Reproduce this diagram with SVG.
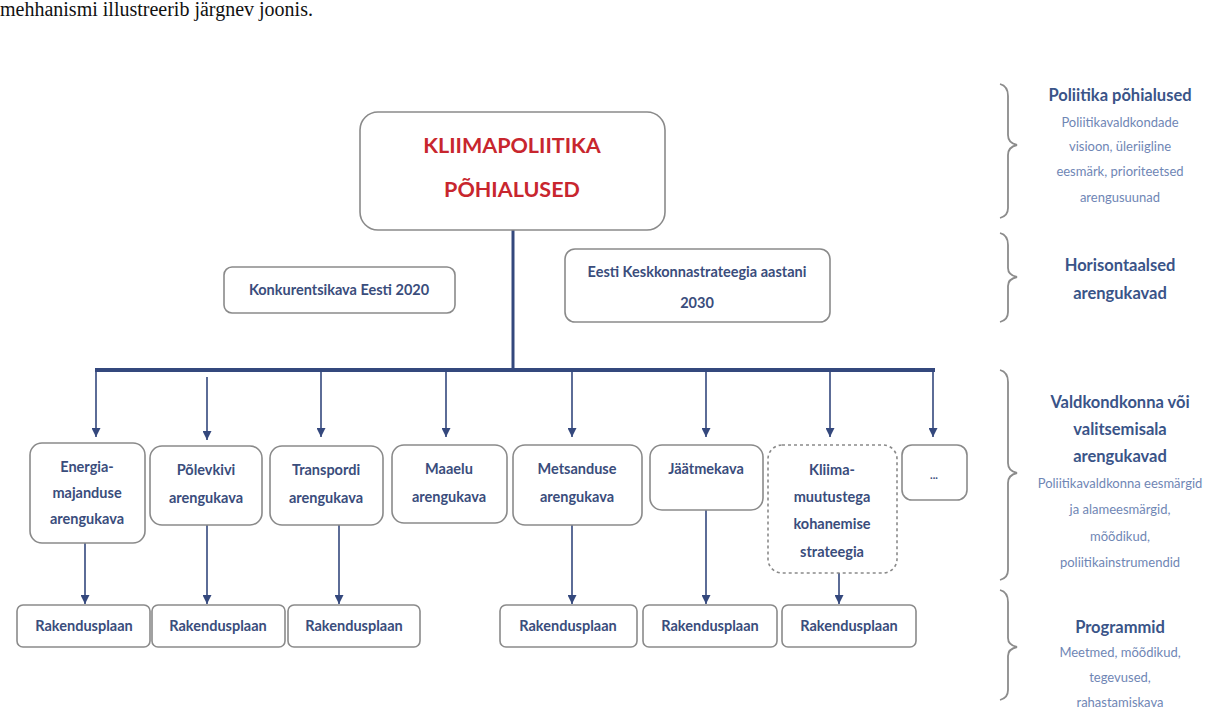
<svg xmlns="http://www.w3.org/2000/svg" width="1221" height="720" viewBox="0 0 1221 720">
<defs>
<marker id="ah" viewBox="0 0 10 10" refX="10" refY="5" markerWidth="9" markerHeight="9" markerUnits="userSpaceOnUse" orient="auto">
<path d="M0,0 L10,5 L0,10 z" fill="#34487d"/>
</marker>
<style>
.box{fill:#fff;stroke:#8a8a8a;stroke-width:1.6}
.dash{fill:#fff;stroke:#8a8a8a;stroke-width:1.6;stroke-dasharray:3 3}
.t{font-family:Lato,"Liberation Sans",sans-serif;font-size:14.5px;font-weight:700;fill:#3a4d7c;text-anchor:middle}
.red{font-family:Lato,"Liberation Sans",sans-serif;font-size:21.5px;font-weight:700;fill:#c8262e;text-anchor:middle}
.h{font-family:Lato,"Liberation Sans",sans-serif;font-size:16.5px;font-weight:700;fill:#3a5488;text-anchor:middle}
.s{font-family:Lato,"Liberation Sans",sans-serif;font-size:13px;fill:#6f86b5;text-anchor:middle}
.c{fill:none;stroke:#34487d;stroke-width:1.6}
.brace{fill:none;stroke:#8c8c8c;stroke-width:1.8}
</style>
</defs>
<rect width="1221" height="720" fill="#fff"/>
<text x="0" y="16" font-family="Liberation Serif,serif" font-size="20" fill="#111">mehhanismi illustreerib järgnev joonis.</text>

<g id="connectors">
<line x1="513" y1="230" x2="513" y2="370" stroke="#34487d" stroke-width="3"/>
<line x1="95" y1="370" x2="935" y2="370" stroke="#34487d" stroke-width="4"/>
<line class="c" x1="96" y1="370" x2="96" y2="437" marker-end="url(#ah)"/>
<line class="c" x1="207" y1="377" x2="207" y2="440" marker-end="url(#ah)"/>
<line class="c" x1="321" y1="370" x2="321" y2="437" marker-end="url(#ah)"/>
<line class="c" x1="446" y1="370" x2="446" y2="437" marker-end="url(#ah)"/>
<line class="c" x1="572" y1="370" x2="572" y2="437" marker-end="url(#ah)"/>
<line class="c" x1="706" y1="370" x2="706" y2="437" marker-end="url(#ah)"/>
<line class="c" x1="830" y1="370" x2="830" y2="437" marker-end="url(#ah)"/>
<line class="c" x1="933" y1="370" x2="933" y2="437" marker-end="url(#ah)"/>
<line class="c" x1="85" y1="543" x2="85" y2="604" marker-end="url(#ah)"/>
<line class="c" x1="207" y1="525" x2="207" y2="604" marker-end="url(#ah)"/>
<line class="c" x1="339" y1="525" x2="339" y2="604" marker-end="url(#ah)"/>
<line class="c" x1="572" y1="525" x2="572" y2="604" marker-end="url(#ah)"/>
<line class="c" x1="706" y1="510" x2="706" y2="604" marker-end="url(#ah)"/>
<line class="c" x1="839" y1="573" x2="839" y2="604" marker-end="url(#ah)"/>
</g>

<g id="top">
<rect class="box" x="360" y="112" width="305" height="118" rx="18"/>
<text class="red" x="512" y="153">KLIIMAPOLIITIKA</text>
<text class="red" x="512" y="197">PÕHIALUSED</text>
</g>
<g id="konkurents">
<rect class="box" x="224" y="267" width="231" height="46" rx="8"/>
<text class="t" x="339" y="295">Konkurentsikava Eesti 2020</text>
</g>
<g id="keskkond">
<rect class="box" x="565" y="249" width="265" height="73" rx="10"/>
<text class="t" x="697" y="277">Eesti Keskkonnastrateegia aastani</text>
<text class="t" x="697" y="308">2030</text>
</g>

<g id="energia">
<rect class="box" x="30" y="443" width="115" height="100" rx="12"/>
<text class="t" x="87" y="472">Energia-</text>
<text class="t" x="87" y="498">majanduse</text>
<text class="t" x="87" y="524">arengukava</text>
</g>
<g id="polevkivi">
<rect class="box" x="150" y="446" width="112" height="79" rx="12"/>
<text class="t" x="206" y="475">Põlevkivi</text>
<text class="t" x="206" y="503">arengukava</text>
</g>
<g id="transport">
<rect class="box" x="270" y="446" width="113" height="79" rx="12"/>
<text class="t" x="326" y="475">Transpordi</text>
<text class="t" x="326" y="503">arengukava</text>
</g>
<g id="maaelu">
<rect class="box" x="392" y="445" width="115" height="78" rx="12"/>
<text class="t" x="449" y="474">Maaelu</text>
<text class="t" x="449" y="502">arengukava</text>
</g>
<g id="mets">
<rect class="box" x="513" y="445" width="129" height="80" rx="12"/>
<text class="t" x="577" y="474">Metsanduse</text>
<text class="t" x="577" y="502">arengukava</text>
</g>
<g id="jaatme">
<rect class="box" x="650" y="445" width="113" height="65" rx="12"/>
<text class="t" x="706" y="474">Jäätmekava</text>
</g>
<g id="kliima">
<rect class="dash" x="768" y="445" width="129" height="128" rx="14"/>
<text class="t" x="832" y="475">Kliima-</text>
<text class="t" x="832" y="502">muutustega</text>
<text class="t" x="832" y="529">kohanemise</text>
<text class="t" x="832" y="557">strateegia</text>
</g>
<g id="dots">
<rect class="box" x="902" y="445" width="65" height="55" rx="10"/>
<text class="t" x="934" y="479" style="font-size:11px">...</text>
</g>

<g id="rp1"><rect class="box" x="17" y="605" width="133" height="42" rx="6"/><text class="t" x="84" y="631">Rakendusplaan</text></g>
<g id="rp2"><rect class="box" x="152" y="605" width="133" height="42" rx="6"/><text class="t" x="218" y="631">Rakendusplaan</text></g>
<g id="rp3"><rect class="box" x="288" y="605" width="132" height="42" rx="6"/><text class="t" x="354" y="631">Rakendusplaan</text></g>
<g id="rp4"><rect class="box" x="500" y="605" width="137" height="42" rx="6"/><text class="t" x="568" y="631">Rakendusplaan</text></g>
<g id="rp5"><rect class="box" x="643" y="605" width="134" height="42" rx="6"/><text class="t" x="710" y="631">Rakendusplaan</text></g>
<g id="rp6"><rect class="box" x="782" y="605" width="134" height="42" rx="6"/><text class="t" x="849" y="631">Rakendusplaan</text></g>

<g id="braces">
<path class="brace" d="M1000,84 Q1008,86 1008,96 L1008,135 Q1008,143 1017,145 Q1008,147 1008,155 L1008,208 Q1008,216 1000,218"/>
<path class="brace" d="M1000,233 Q1008,235 1008,245 L1008,268 Q1008,275 1017,277 Q1008,279 1008,286 L1008,312 Q1008,320 1000,322"/>
<path class="brace" d="M1000,370 Q1008,372 1008,382 L1008,463 Q1008,471 1017,473 Q1008,475 1008,483 L1008,570 Q1008,578 1000,580"/>
<path class="brace" d="M1000,590 Q1008,592 1008,602 L1008,638 Q1008,645 1017,647 Q1008,649 1008,656 L1008,690 Q1008,698 1000,700"/>
</g>

<g id="legend">
<text class="h" x="1120" y="101">Poliitika põhialused</text>
<text class="s" x="1120" y="127">Poliitikavaldkondade</text>
<text class="s" x="1120" y="151">visioon, üleriigline</text>
<text class="s" x="1120" y="176">eesmärk, prioriteetsed</text>
<text class="s" x="1120" y="202">arengusuunad</text>
<text class="h" x="1120" y="271">Horisontaalsed</text>
<text class="h" x="1120" y="299">arengukavad</text>
<text class="h" x="1120" y="408">Valdkondkonna või</text>
<text class="h" x="1120" y="435">valitsemisala</text>
<text class="h" x="1120" y="462">arengukavad</text>
<text class="s" x="1120" y="488">Poliitikavaldkonna eesmärgid</text>
<text class="s" x="1120" y="514">ja alameesmärgid,</text>
<text class="s" x="1120" y="541">mõõdikud,</text>
<text class="s" x="1120" y="567">poliitikainstrumendid</text>
<text class="h" x="1120" y="633">Programmid</text>
<text class="s" x="1120" y="657">Meetmed, mõõdikud,</text>
<text class="s" x="1120" y="682">tegevused,</text>
<text class="s" x="1120" y="707">rahastamiskava</text>
</g>
</svg>
